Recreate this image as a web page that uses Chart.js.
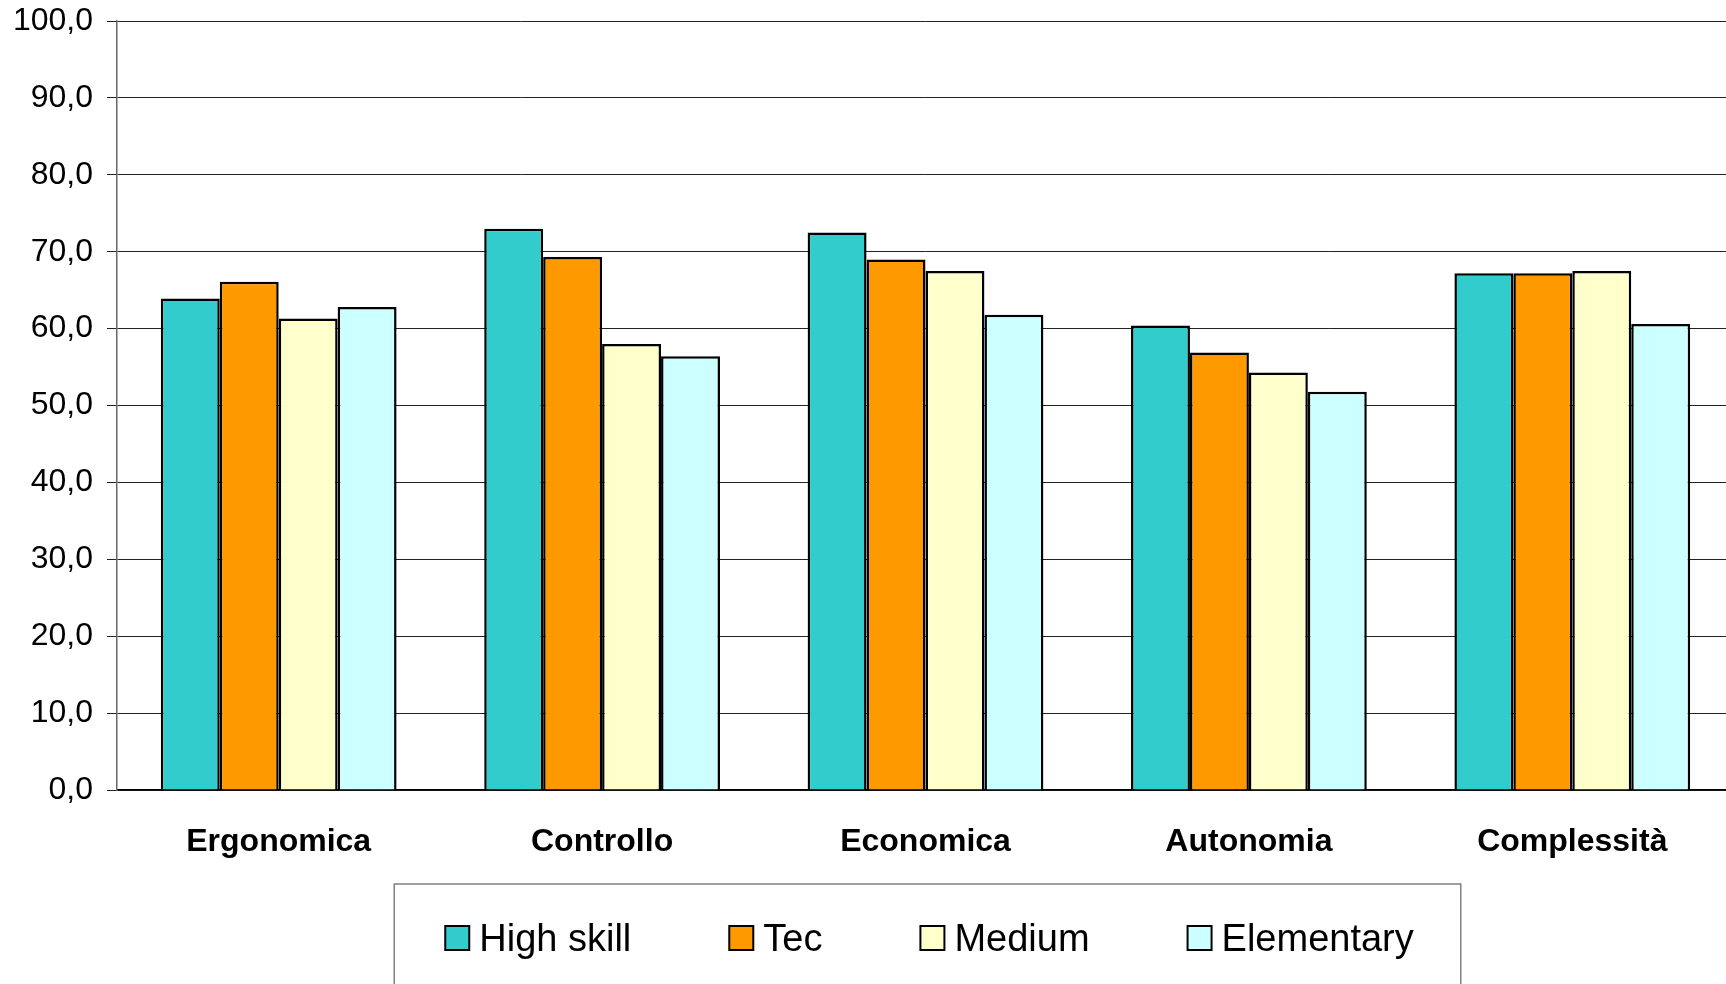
<!DOCTYPE html>
<html>
<head>
<meta charset="utf-8">
<script src="https://cdn.jsdelivr.net/npm/chart.js@4"></script>
<style>
  html, body { margin: 0; padding: 0; background: #fff; overflow: hidden; }
  #wrap { width: 1734px; height: 984px; }
</style>
</head>
<body>
<div id="wrap"><canvas id="skillChart"></canvas></div>
<script>
const categories = ["Ergonomica", "Controllo", "Economica", "Autonomia", "Complessità"];
const seriesNames = ["High skill", "Tec", "Medium", "Elementary"];
const highSkill = [63.9, 73.0, 72.5, 60.4, 67.2];
const tec = [66.1, 69.3, 69.0, 56.9, 67.2];
const medium = [61.3, 58.0, 67.5, 54.3, 67.5];
const elementary = [62.8, 56.4, 61.8, 51.8, 60.6];
const yTicks = [0, 10, 20, 30, 40, 50, 60, 70, 80, 90, 100];

const colors = ["#33CCCC", "#FF9900", "#FFFFCC", "#CCFFFF"];
const series = [highSkill, tec, medium, elementary];
const FONT = "'Liberation Sans', Arial, sans-serif";

// boxed legend under the axis, drawn by hand so the spacing stays tight
const boxLegend = {
  id: "boxLegend",
  afterDraw(chart) {
    const ctx = chart.ctx;
    const sets = chart.data.datasets;
    const sq = 24, gapText = 10, gapItem = 98;
    const cy = 940;
    ctx.save();
    ctx.font = "38px " + FONT;
    const widths = sets.map(d => ctx.measureText(d.label).width);
    let total = 0;
    widths.forEach((w, i) => { total += sq + gapText + w + (i < widths.length - 1 ? gapItem : 0); });
    const area = chart.chartArea;
    let x = (area.left + area.right) / 2 - total / 2 + 4;

    ctx.strokeStyle = "#808080";
    ctx.lineWidth = 1.5;
    ctx.strokeRect(x - 51, cy - 56, total + 98, 120);

    ctx.textBaseline = "middle";
    ctx.textAlign = "left";
    sets.forEach((d, i) => {
      ctx.fillStyle = d.backgroundColor;
      ctx.fillRect(x, cy - sq / 2 - 2, sq, sq);
      ctx.strokeStyle = "#000";
      ctx.lineWidth = 2;
      ctx.strokeRect(x, cy - sq / 2 - 2, sq, sq);
      ctx.fillStyle = "#000";
      ctx.fillText(d.label, x + sq + gapText, cy + 1);
      x += sq + gapText + widths[i] + gapItem;
    });
    ctx.restore();
  }
};

new Chart(document.getElementById("skillChart"), {
  type: "bar",
  data: {
    labels: categories,
    datasets: seriesNames.map((name, i) => ({
      label: name,
      data: series[i],
      backgroundColor: colors[i],
      borderColor: "#000",
      borderWidth: 2.5,
      categoryPercentage: 0.729,
      barPercentage: 1.0
    }))
  },
  options: {
    responsive: true,
    maintainAspectRatio: false,
    animation: false,
    layout: { padding: { top: 21, left: 0, right: 0, bottom: 0 } },
    plugins: {
      legend: { display: false },
      tooltip: { enabled: false }
    },
    scales: {
      x: {
        grid: { display: false },
        border: { color: "#000", width: 1.5 },
        ticks: {
          color: "#000",
          padding: 25,
          font: { family: FONT, size: 32, weight: "bold" }
        },
        afterFit(scale) { scale.height = 194; }
      },
      y: {
        min: 0,
        max: 100,
        afterBuildTicks(scale) { scale.ticks = yTicks.map(v => ({ value: v })); },
        grid: { color: "#222", lineWidth: 1, tickLength: 10 },
        border: { color: "#666", width: 1.5 },
        ticks: {
          color: "#000",
          padding: 14,
          font: { family: FONT, size: 32 },
          callback: v => v.toFixed(1).replace(".", ",")
        },
        afterFit(scale) {
          scale.width = 117;
          scale.paddingTop = 0;
          scale.paddingBottom = 0;
        }
      }
    }
  },
  plugins: [boxLegend]
});
</script>
</body>
</html>
